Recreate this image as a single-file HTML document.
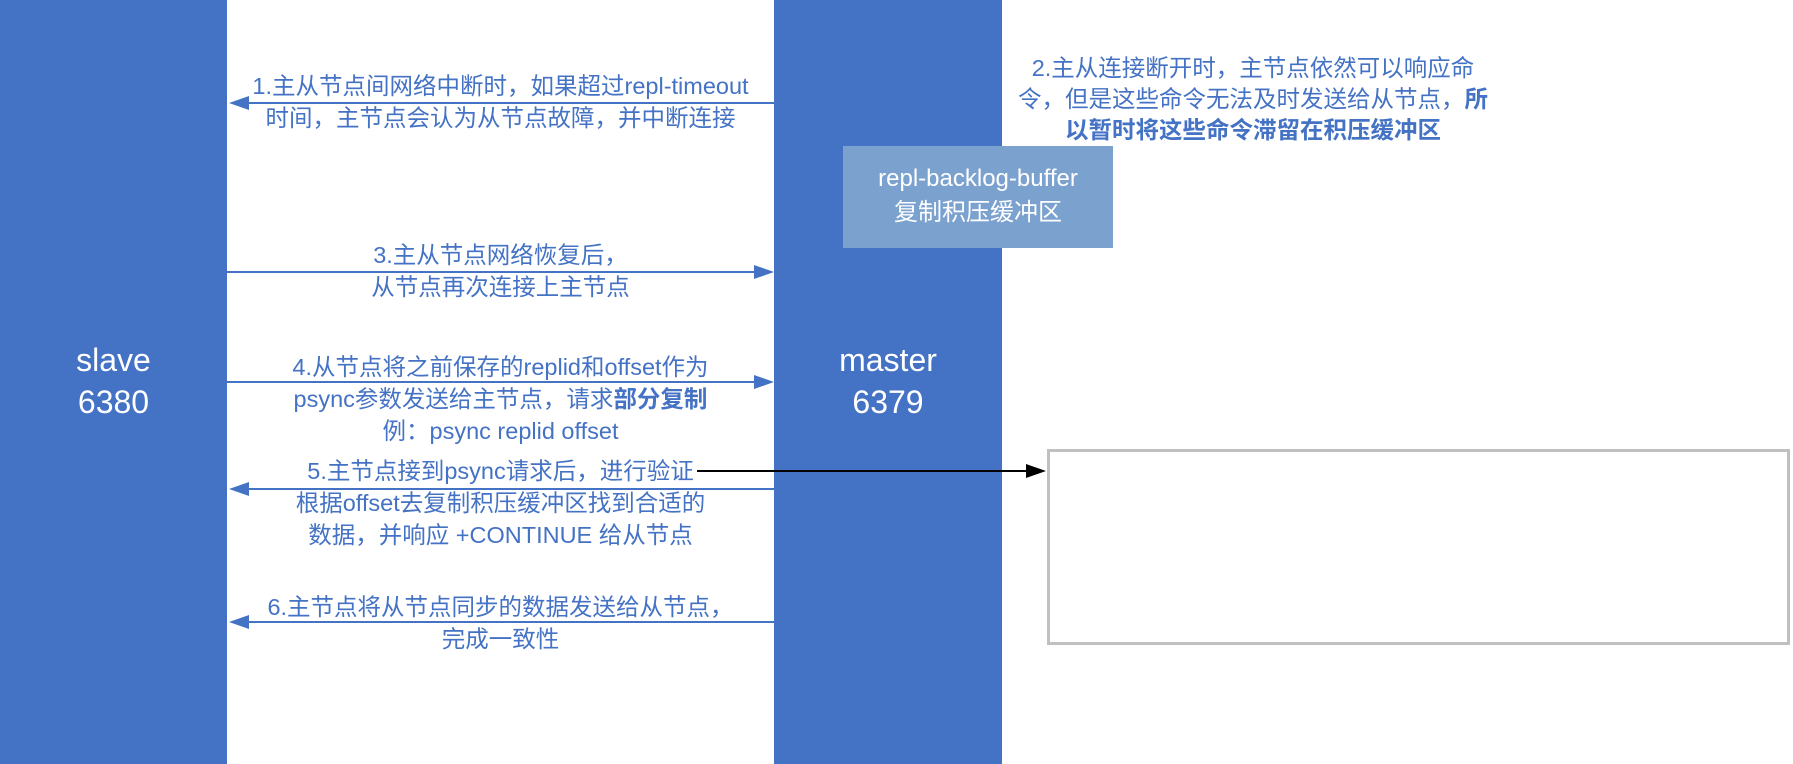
<!DOCTYPE html>
<html><head><meta charset="utf-8"><style>
body{margin:0;width:1793px;height:764px;background:#fff;position:relative;overflow:hidden;font-family:"Liberation Sans","Noto Sans CJK SC",sans-serif}
.a{position:absolute}
.lbl{position:absolute;color:#4472C4;font-size:23.5px;line-height:32px;text-align:center;white-space:nowrap}
.box{position:absolute;background:#4472C4;color:#fff;font-size:32px;line-height:42px;text-align:center}
</style></head><body>
<div class="box" style="left:0;top:0;width:227px;height:764px"><div style="position:absolute;top:339px;width:100%">slave<br>6380</div></div>
<div class="box" style="left:774px;top:0;width:228px;height:764px"><div style="position:absolute;top:339px;width:100%">master<br>6379</div></div>
<div class="a" style="left:843px;top:146px;width:270px;height:102px;background:#7BA2CF;color:#fff;font-size:24px;line-height:34px;text-align:center"><div style="padding-top:16px">repl-backlog-buffer<br>复制积压缓冲区</div></div>
<div class="a" style="left:1047px;top:449px;width:737px;height:190px;border:3px solid #c0c0c0"></div>
<svg class="a" style="left:0;top:0" width="1793" height="764">
<g stroke="#4472C4" stroke-width="2" fill="#4472C4">
<line x1="774" y1="103" x2="245" y2="103"/><polygon points="229,103 249,96 249,110" stroke="none"/>
<line x1="227" y1="272" x2="757" y2="272"/><polygon points="774,272 754,265 754,279" stroke="none"/>
<line x1="227" y1="382" x2="757" y2="382"/><polygon points="774,382 754,375 754,389" stroke="none"/>
<line x1="774" y1="489" x2="245" y2="489"/><polygon points="229,489 249,482 249,496" stroke="none"/>
<line x1="774" y1="622" x2="245" y2="622"/><polygon points="229,622 249,615 249,629" stroke="none"/>
</g>
<line x1="697" y1="471" x2="1028" y2="471" stroke="#000" stroke-width="2"/><polygon points="1046,471 1026,464 1026,478" fill="#000"/>
</svg>
<div class="lbl" style="left:227px;width:547px;top:70px">1.主从节点间网络中断时，如果超过repl-timeout<br>时间，主节点会认为从节点故障，并中断连接</div>
<div class="lbl" style="left:227px;width:547px;top:239px">3.主从节点网络恢复后，<br>从节点再次连接上主节点</div>
<div class="lbl" style="left:227px;width:547px;top:351px">4.从节点将之前保存的replid和offset作为<br>psync参数发送给主节点，请求<b>部分复制</b><br>例：psync replid offset</div>
<div class="lbl" style="left:227px;width:547px;top:455px">5.主节点接到psync请求后，进行验证<br>根据offset去复制积压缓冲区找到合适的<br>数据，并响应 +CONTINUE 给从节点</div>
<div class="lbl" style="left:227px;width:547px;top:591px">6.主节点将从节点同步的数据发送给从节点，<br>完成一致性</div>
<div class="lbl" style="left:1003px;width:500px;top:53px;line-height:31px">2.主从连接断开时，主节点依然可以响应命<br>令，但是这些命令无法及时发送给从节点，<b>所<br>以暂时将这些命令滞留在积压缓冲区</b></div>
</body></html>
